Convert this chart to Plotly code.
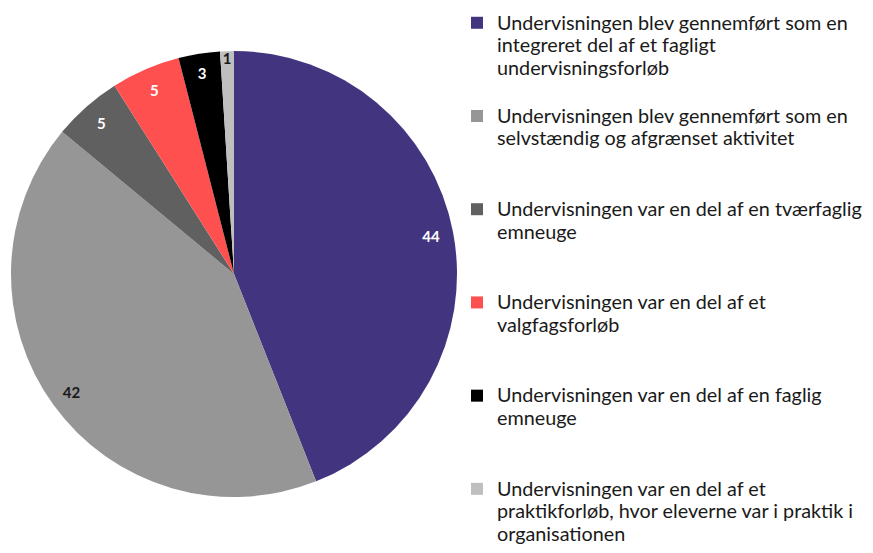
import plotly.graph_objects as go

categories = [
    "Undervisningen blev gennemført som en<br>integreret del af et fagligt<br>undervisningsforløb",
    "Undervisningen blev gennemført som en<br>selvstændig og afgrænset aktivitet",
    "Undervisningen var en del af en tværfaglig<br>emneuge",
    "Undervisningen var en del af et<br>valgfagsforløb",
    "Undervisningen var en del af en faglig<br>emneuge",
    "Undervisningen var en del af et<br>praktikforløb, hvor eleverne var i praktik i<br>organisationen",
]
values = [44, 42, 5, 5, 3, 1]
colors = ["#42347F", "#969696", "#606060", "#FF5050", "#000000", "#BFBFBF"]
label_colors = ["#FFFFFF", "#1A1A1A", "#FFFFFF", "#FFFFFF", "#FFFFFF", "#1A1A1A"]

# legend labels: each line rendered larger than the legend line pitch, padded to equal item height
legend_labels = []
for i, c in enumerate(categories):
    lines = c.split("<br>")
    body = "<br>".join(f"<span style='font-size:19.8px'>{ln}</span>" for ln in lines)
    if i < len(categories) - 1:
        body += "<br>\u00a0" * (4 - len(lines))
    legend_labels.append(body)

W, H = 873, 553
dom = dict(x=[11 / W, 457 / W], y=[1 - 497 / H, 1 - 51 / H])

fig = go.Figure()
fig.add_trace(go.Pie(
    labels=legend_labels,
    values=values,
    sort=False,
    direction="clockwise",
    rotation=0,
    marker=dict(colors=colors, line=dict(width=0)),
    textinfo="none",
    domain=dom,
    hoverinfo="value",
))
# transparent ring that carries the value labels near the rim
fig.add_trace(go.Pie(
    labels=legend_labels,
    values=values,
    sort=False,
    direction="clockwise",
    rotation=0,
    hole=0.8,
    showlegend=False,
    marker=dict(colors=["rgba(0,0,0,0)"] * len(values), line=dict(width=0)),
    textinfo="value",
    textposition="inside",
    insidetextorientation="horizontal",
    textfont=dict(family="Lato", size=15, color=label_colors, weight="bold"),
    domain=dom,
    hoverinfo="value",
))

fig.update_layout(
    width=W, height=H,
    margin=dict(l=0, r=0, t=0, b=0),
    paper_bgcolor="white",
    plot_bgcolor="white",
    font=dict(family="Lato", color="#1A1A1A"),
    uniformtext=dict(minsize=15, mode="show"),
    legend=dict(
        x=457 / W, xanchor="left",
        y=1 - 5 / H, yanchor="top",
        valign="top",
        font=dict(family="Lato", size=17.35, color="#1A1A1A"),
        bgcolor="rgba(0,0,0,0)",
        traceorder="normal",
    ),
)

fig.write_html(
    "out.html",
    config={"displayModeBar": False},
    post_script="document.body.style.margin='0';",
)
